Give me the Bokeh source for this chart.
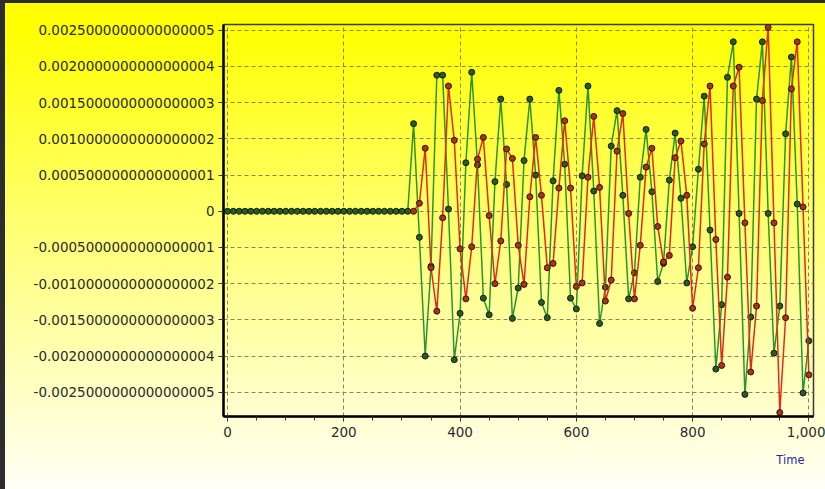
from bokeh.plotting import figure
from bokeh.models import FixedTicker, Title, Range1d, GlobalInlineStyleSheet, ColumnDataSource
from bokeh.embed import file_html
from bokeh.resources import INLINE

# ---- data ----
time = list(range(0, 1001, 10))

green = [
    0.0, 0.0, 0.0, 0.0, 0.0, 0.0, 0.0, 0.0, 0.0, 0.0,
    0.0, 0.0, 0.0, 0.0, 0.0, 0.0, 0.0, 0.0, 0.0, 0.0,
    0.0, 0.0, 0.0, 0.0, 0.0, 0.0, 0.0, 0.0, 0.0, 0.0,
    0.0, 0.0,
    0.00121, -0.00036, -0.00200, -0.00076, 0.00188, 0.00188, 0.00003, -0.00205,
    -0.00141, 0.00067, 0.00192, 0.00064, -0.00120, -0.00143, 0.00041, 0.00155,
    0.00037, -0.00148, -0.00106, 0.00070, 0.00155, 0.00050, -0.00126, -0.00147,
    0.00042, 0.00167, 0.00065, -0.00120, -0.00135, 0.00049, 0.00173, 0.00028,
    -0.00155, -0.00105, 0.00090, 0.00139, 0.00022, -0.00121, -0.00085, 0.00047,
    0.00113, 0.00027, -0.00097, -0.00072, 0.00043, 0.00108, 0.00018, -0.00099,
    -0.00049, 0.00058, 0.00159, -0.00026, -0.00218, -0.00129, 0.00185, 0.00234,
    -0.00003, -0.00253, -0.00146, 0.00155, 0.00234, -0.00003, -0.00196, -0.00131,
    0.00107, 0.00213, 0.00010, -0.00251, -0.00179,
]

red_time = time[32:]
red = [
    0.0, 0.00011, 0.00087, -0.00078, -0.00138, -0.00009, 0.00173, 0.00098,
    -0.00052, -0.00121, -0.00049, 0.00072, 0.00102, -0.00006, -0.00100, -0.00041,
    0.00086, 0.00073, -0.00047, -0.00101, 0.00020, 0.00102, 0.00022, -0.00078,
    -0.00072, 0.00032, 0.00125, 0.00032, -0.00104, -0.00099, 0.00047, 0.00131,
    0.00033, -0.00124, -0.00095, 0.00083, 0.00135, -0.00003, -0.00121, -0.00047,
    0.00061, 0.00087, -0.00021, -0.00070, -0.00061, 0.00074, 0.00097, 0.00022,
    -0.00134, -0.00078, 0.00093, 0.00173, -0.00039, -0.00213, -0.00091, 0.00173,
    0.00199, -0.00016, -0.00222, -0.00131, 0.00153, 0.00254, -0.00016, -0.00278,
    -0.00147, 0.00169, 0.00234, 0.00006, -0.00226,
]

y_ticks = [0.0025, 0.002, 0.0015, 0.001, 0.0005, 0.0, -0.0005, -0.001, -0.0015, -0.002, -0.0025]
y_tick_labels = [
    "0.0025000000000000005", "0.0020000000000000004", "0.0015000000000000003",
    "0.0010000000000000002", "0.0005000000000000001", "0",
    "-0.0005000000000000001", "-0.0010000000000000002", "-0.0015000000000000003",
    "-0.0020000000000000004", "-0.0025000000000000005",
]
x_ticks = [0, 200, 400, 600, 800, 1000]
x_tick_labels = ["0", "200", "400", "600", "800", "1,000"]
x_minor = [50, 100, 150, 250, 300, 350, 450, 500, 550, 650, 700, 750, 850, 900, 950]
x_title = "Time"

# ---- figure ----
css = GlobalInlineStyleSheet(css="html,body{margin:0;padding:0;overflow:hidden;background:#2d2d2d;} body{padding:3px 0 0 5px;}")

p = figure(
    width=820, height=486,
    output_backend="svg", toolbar_location=None,
    x_range=Range1d(-7, 1008), y_range=Range1d(-0.002835, 0.00258),
    min_border_left=218, min_border_right=12, min_border_top=21, min_border_bottom=73,
    border_fill_color=None, background_fill_color=None,
    outline_line_color="#3a3a3a", outline_line_width=1.5,
    stylesheets=[css],
)
p.styles = {"background": "linear-gradient(to bottom, #ffff00 0%, #ffff00 5%, #ffff70 45%, #fffff6 100%)"}

# axes
p.xaxis.ticker = FixedTicker(ticks=x_ticks, minor_ticks=x_minor)
p.xaxis.major_label_overrides = {t: l for t, l in zip(x_ticks, x_tick_labels)}
p.yaxis.ticker = FixedTicker(ticks=y_ticks)
p.yaxis.major_label_overrides = {t: l for t, l in zip(y_ticks, y_tick_labels)}

for ax in (p.xaxis[0], p.yaxis[0]):
    ax.axis_line_color = "black"
    ax.axis_line_width = 2.5
    ax.major_tick_line_color = "#333333"
    ax.major_tick_in = 0
    ax.major_tick_out = 5
    ax.minor_tick_line_color = "#333333"
    ax.minor_tick_in = 0
    ax.minor_tick_out = 4
    ax.major_label_text_font = "DejaVu Sans"
    ax.major_label_text_font_size = "13.5px"
    ax.major_label_text_color = "#2a2a2a"
p.yaxis.minor_tick_line_color = None
p.yaxis.major_label_standoff = 4
p.xaxis.major_label_standoff = 5

# grid
for g in (p.xgrid[0], p.ygrid[0]):
    g.grid_line_color = "#86865a"
    g.grid_line_dash = "4 3"
    g.grid_line_width = 1

# series
gsrc = ColumnDataSource(dict(t=time, v=green))
rsrc = ColumnDataSource(dict(t=red_time, v=red))

p.line("t", "v", source=gsrc, line_color="#2c952a", line_width=1.5)
p.scatter("t", "v", source=gsrc, size=6, fill_color="#2c5a22", line_color="#102010", line_width=1)
p.line("t", "v", source=rsrc, line_color="#e02a1a", line_width=1.5)
p.scatter("t", "v", source=rsrc, size=6, fill_color="#a8341a", line_color="#3a1008", line_width=1)

title = Title(text=x_title, align="right", offset=9, text_color="#2a2a9e",
              text_font="DejaVu Sans", text_font_size="11.5px", text_font_style="normal",
              standoff=23)
p.add_layout(title, "below")

open("out.html", "w").write(file_html(p, INLINE))
